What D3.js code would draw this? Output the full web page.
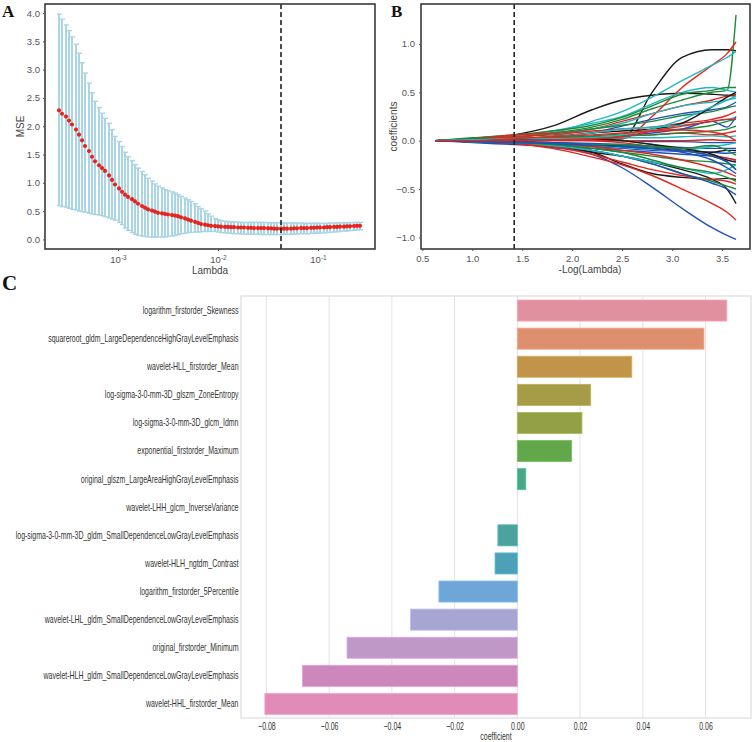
<!DOCTYPE html>
<html>
<head>
<meta charset="utf-8">
<script src="https://cdn.jsdelivr.net/npm/d3@7"></script>
<style>
  body { margin: 0; background: #fff; }
  svg text { font-family: "Liberation Sans", Arial, sans-serif; }
</style>
</head>
<body>
<svg id="fig" width="752" height="742"></svg>
<script>
// ---- panel A: cross-validation curve ----
var logLambda = [
  -3.59,-3.56,-3.52,-3.49,-3.46,-3.42,-3.39,-3.36,-3.33,-3.29,
  -3.26,-3.23,-3.19,-3.16,-3.13,-3.09,-3.06,-3.03,-2.99,-2.96,
  -2.93,-2.90,-2.86,-2.83,-2.80,-2.76,-2.73,-2.70,-2.66,-2.63,
  -2.60,-2.56,-2.53,-2.50,-2.46,-2.43,-2.40,-2.37,-2.33,-2.30,
  -2.27,-2.23,-2.20,-2.17,-2.13,-2.10,-2.07,-2.03,-2.00,-1.97,
  -1.93,-1.90,-1.87,-1.84,-1.80,-1.77,-1.74,-1.70,-1.67,-1.64,
  -1.60,-1.57,-1.54,-1.50,-1.47,-1.44,-1.41,-1.37,-1.34,-1.31,
  -1.27,-1.24,-1.21,-1.17,-1.14,-1.11,-1.07,-1.04,-1.01,-0.98,
  -0.94,-0.91,-0.88,-0.84,-0.81,-0.78,-0.74,-0.71,-0.68,-0.64,
  -0.61,-0.58];
var cvMean = [
  2.28,2.22,2.17,2.10,2.03,1.94,1.85,1.75,1.65,1.56,
  1.46,1.38,1.31,1.26,1.21,1.13,1.05,0.97,0.90,0.84,
  0.79,0.75,0.71,0.67,0.63,0.59,0.56,0.53,0.51,0.49,
  0.47,0.46,0.45,0.44,0.43,0.42,0.41,0.39,0.37,0.35,
  0.33,0.31,0.29,0.27,0.26,0.25,0.24,0.235,0.23,0.225,
  0.22,0.22,0.215,0.215,0.21,0.21,0.21,0.205,0.205,0.20,
  0.20,0.20,0.20,0.195,0.195,0.19,0.19,0.19,0.19,0.19,
  0.19,0.195,0.195,0.20,0.20,0.20,0.205,0.205,0.21,0.21,
  0.21,0.215,0.215,0.22,0.22,0.225,0.225,0.23,0.23,0.235,
  0.24,0.24];
var cvUpper = [
  3.98,3.89,3.79,3.69,3.58,3.45,3.29,3.12,2.94,2.76,
  2.59,2.44,2.33,2.23,2.14,2.05,1.94,1.82,1.73,1.64,
  1.54,1.46,1.39,1.32,1.26,1.20,1.14,1.08,1.03,0.98,
  0.94,0.91,0.88,0.86,0.84,0.82,0.79,0.76,0.73,0.70,
  0.67,0.63,0.58,0.54,0.50,0.45,0.41,0.37,0.345,0.33,
  0.32,0.315,0.31,0.31,0.305,0.30,0.30,0.30,0.30,0.30,
  0.30,0.30,0.30,0.295,0.295,0.295,0.295,0.295,0.29,0.29,
  0.29,0.29,0.29,0.29,0.285,0.285,0.285,0.285,0.285,0.285,
  0.285,0.285,0.29,0.29,0.29,0.29,0.295,0.295,0.295,0.30,
  0.30,0.30];
var cvLower = [
  0.60,0.58,0.57,0.55,0.53,0.52,0.50,0.49,0.48,0.46,
  0.45,0.44,0.43,0.42,0.40,0.38,0.36,0.34,0.30,0.26,
  0.20,0.16,0.12,0.09,0.07,0.06,0.05,0.045,0.04,0.04,
  0.04,0.04,0.045,0.05,0.06,0.07,0.085,0.10,0.11,0.12,
  0.125,0.13,0.13,0.135,0.14,0.14,0.14,0.14,0.13,0.12,
  0.115,0.11,0.105,0.10,0.10,0.095,0.095,0.09,0.09,0.09,
  0.09,0.085,0.085,0.085,0.085,0.085,0.085,0.085,0.09,0.09,
  0.09,0.095,0.095,0.10,0.10,0.10,0.105,0.105,0.11,0.11,
  0.115,0.12,0.125,0.13,0.135,0.14,0.145,0.15,0.155,0.16,
  0.165,0.17];
var lambdaMinLog = -1.37;
var mseTicks = [0, 0.5, 1, 1.5, 2, 2.5, 3, 3.5, 4];
var lambdaTicks = [1e-3, 1e-2, 1e-1];

// ---- panel B: coefficient paths ----
var pathX = [0.63, 1.0, 1.42, 1.8, 2.2, 2.5, 2.8, 3.1, 3.4, 3.55, 3.64];
var pathColors = [
  'black','black','green','red','cyan','cyan','green','red','blue','cyan',
  'green','red','black','cyan','green','blue','red','green','cyan','blue',
  'red','blue','blue','blue','cyan','black','green','red','black','black',
  'blue','red','red','green','blue','cyan','green','red','green','black',
  'blue','cyan','red','green','blue','red'];
var pathValues = [
  [0,-0.01,0.01,0.02,0.03,0.02,0.50,0.86,0.94,0.94,0.93],
  [0,0.01,0.06,0.15,0.32,0.42,0.47,0.49,0.48,0.47,0.46],
  [0,0.02,0.04,0.08,0.14,0.22,0.33,0.42,0.50,0.52,1.30],
  [0,0.00,0.00,0.01,0.02,0.02,0.25,0.55,0.78,0.90,1.02],
  [0,0.01,0.03,0.08,0.20,0.30,0.45,0.62,0.78,0.86,0.92],
  [0,0.02,0.05,0.10,0.18,0.25,0.38,0.50,0.55,0.52,0.50],
  [0,0.03,0.06,0.10,0.16,0.24,0.36,0.48,0.52,0.55,0.55],
  [0,0.02,0.06,0.08,0.12,0.20,0.28,0.36,0.42,0.46,0.48],
  [0,0.00,0.01,0.03,0.08,0.15,0.22,0.28,0.32,0.35,0.40],
  [0,0.01,0.02,0.05,0.12,0.18,0.28,0.36,0.40,0.42,0.44],
  [0,0.02,0.04,0.07,0.12,0.16,0.20,0.26,0.30,0.34,0.36],
  [0,0.01,0.04,0.06,0.10,0.12,0.14,0.18,0.22,0.26,0.30],
  [0,0.00,0.02,0.04,0.08,0.10,0.12,0.18,0.35,0.45,0.50],
  [0,0.00,0.02,0.04,0.08,0.12,0.14,0.16,0.20,0.22,0.24],
  [0,0.01,0.02,0.03,0.05,0.07,0.10,0.12,0.16,0.20,0.22],
  [0,0.00,0.00,0.01,0.03,0.05,0.08,0.12,0.20,0.14,0.25],
  [0,0.00,0.01,0.02,0.04,0.05,0.06,0.08,0.06,0.08,0.10],
  [0,0.01,0.02,0.03,0.04,0.05,0.06,0.08,0.10,0.12,0.15],
  [0,0.00,0.01,0.01,0.02,0.03,0.03,0.04,0.05,0.04,0.05],
  [0,0.00,0.00,0.00,0.00,0.00,-0.01,-0.01,-0.02,-0.02,-0.02],
  [0,0.00,0.00,0.00,0.00,0.00,0.00,0.00,0.01,0.00,0.00],
  [0,-0.01,-0.02,-0.03,-0.04,-0.05,-0.06,-0.07,-0.08,-0.08,-0.08],
  [0,-0.01,-0.03,-0.04,-0.06,-0.08,-0.10,-0.11,-0.12,-0.13,-0.12],
  [0,-0.02,-0.04,-0.06,-0.08,-0.10,-0.12,-0.14,-0.16,-0.18,-0.20],
  [0,-0.01,-0.02,-0.03,-0.05,-0.07,-0.09,-0.10,-0.06,-0.04,-0.02],
  [0,0.00,-0.01,-0.02,-0.04,-0.06,-0.08,-0.10,-0.12,-0.10,-0.10],
  [0,-0.01,-0.02,-0.04,-0.08,-0.12,-0.16,-0.20,-0.22,-0.24,-0.25],
  [0,-0.01,-0.02,-0.04,-0.06,-0.10,-0.14,-0.20,-0.28,-0.33,-0.37],
  [0,0.00,-0.02,-0.05,-0.12,-0.24,-0.34,-0.38,-0.40,-0.39,-0.40],
  [0,-0.01,-0.03,-0.06,-0.12,-0.16,-0.22,-0.30,-0.40,-0.50,-0.65],
  [0,-0.01,-0.03,-0.07,-0.14,-0.28,-0.48,-0.70,-0.90,-0.98,-1.02],
  [0,-0.01,-0.03,-0.08,-0.17,-0.25,-0.36,-0.50,-0.65,-0.74,-0.82],
  [0,-0.01,-0.03,-0.06,-0.14,-0.22,-0.30,-0.36,-0.40,-0.42,-0.45],
  [0,-0.01,-0.02,-0.05,-0.10,-0.16,-0.24,-0.34,-0.42,-0.47,-0.50],
  [0,-0.01,-0.02,-0.04,-0.10,-0.16,-0.24,-0.34,-0.44,-0.50,-0.56],
  [0,-0.01,-0.02,-0.05,-0.10,-0.16,-0.22,-0.28,-0.34,-0.30,-0.25],
  [0,-0.01,-0.02,-0.04,-0.08,-0.12,-0.20,-0.28,-0.33,-0.38,-0.42],
  [0,0.01,0.02,0.02,0.00,-0.02,-0.06,-0.10,-0.15,-0.18,-0.20],
  [0,0.01,0.02,0.03,0.02,0.00,-0.04,-0.10,-0.16,-0.22,-0.30],
  [0,0.00,0.01,0.02,0.02,0.00,-0.04,-0.08,-0.14,-0.20,-0.22],
  [0,0.00,-0.01,-0.02,-0.03,-0.04,-0.06,-0.10,-0.16,-0.22,-0.30],
  [0,0.01,0.02,0.02,0.03,0.06,0.12,0.22,0.35,0.42,0.46],
  [0,0.00,0.00,0.01,0.02,0.04,0.10,0.15,0.20,0.22,0.22],
  [0,-0.01,-0.02,-0.03,-0.04,-0.04,-0.06,-0.08,-0.05,-0.10,-0.15],
  [0,-0.01,-0.02,-0.03,-0.05,-0.06,-0.08,-0.12,-0.20,-0.28,-0.34],
  [0,0.00,0.02,0.04,0.06,0.08,0.10,0.11,0.09,0.05,0.00]];
var lineColor = { black: '#1a1a1a', red: '#e8231c', green: '#1d8a3a', blue: '#1f4fbf', cyan: '#20b8c2' };
var cutLogLambda = 1.42;
var coefTicks = [-1, -0.5, 0, 0.5, 1];
var negLogTicks = [0.5, 1, 1.5, 2, 2.5, 3, 3.5];

// ---- panel C: selected features ----
var featureNames = [
  'logarithm_firstorder_Skewness',
  'squareroot_gldm_LargeDependenceHighGrayLevelEmphasis',
  'wavelet-HLL_firstorder_Mean',
  'log-sigma-3-0-mm-3D_glszm_ZoneEntropy',
  'log-sigma-3-0-mm-3D_glcm_Idmn',
  'exponential_firstorder_Maximum',
  'original_glszm_LargeAreaHighGrayLevelEmphasis',
  'wavelet-LHH_glcm_InverseVariance',
  'log-sigma-3-0-mm-3D_gldm_SmallDependenceLowGrayLevelEmphasis',
  'wavelet-HLH_ngtdm_Contrast',
  'logarithm_firstorder_5Percentile',
  'wavelet-LHL_gldm_SmallDependenceLowGrayLevelEmphasis',
  'original_firstorder_Minimum',
  'wavelet-HLH_gldm_SmallDependenceLowGrayLevelEmphasis',
  'wavelet-HHL_firstorder_Mean'];
var featureCoef = [0.0668, 0.0595, 0.0365, 0.0234, 0.0206, 0.0173, 0.0027, 0.0,
  -0.0062, -0.0071, -0.0250, -0.0341, -0.0543, -0.0685, -0.0805];
var barColors = ['#e0909e', '#de8f6f', '#c0954a', '#a69b46', '#93a046', '#62a84a', '#4aa786', '#4aa797',
  '#4aa39f', '#4ca1b8', '#6fa6d8', '#a6a5d4', '#bf98c7', '#cc88bc', '#e08cb6'];
var coefAxisTicks = [-0.08, -0.06, -0.04, -0.02, 0, 0.02, 0.04, 0.06];

var svg = d3.select('#fig');

function panelLetter(txt, x, y, size) {
  svg.append('text')
    .attr('x', x).attr('y', y)
    .style('font-family', '"Liberation Serif", "Times New Roman", serif')
    .attr('font-weight', 'bold')
    .attr('font-size', size)
    .attr('fill', '#111')
    .text(txt);
}

function styleAxis(g) {
  g.select('.domain').remove();
  g.selectAll('.tick line').attr('stroke', '#555');
  g.selectAll('.tick text').attr('fill', '#555').attr('font-size', '9.5px');
}

// ===== A =====
var boxA = { left: 45, top: 4, right: 375, bottom: 249 };
var xA = d3.scaleLog()
  .domain([Math.pow(10, -3.73), Math.pow(10, -0.43)])
  .range([boxA.left, boxA.right]);
var yA = d3.scaleLinear()
  .domain([-0.17, 4.16])
  .range([boxA.bottom, boxA.top]);

var cv = logLambda.map(function (l, i) {
  return { lambda: Math.pow(10, l), mean: cvMean[i], up: cvUpper[i], lo: cvLower[i] };
});

var gA = svg.append('g');
var errA = gA.append('g').attr('stroke', '#a9d5e4').attr('stroke-width', 2);
errA.selectAll('line.v').data(cv).enter().append('line')
  .attr('x1', d => xA(d.lambda)).attr('x2', d => xA(d.lambda))
  .attr('y1', d => yA(d.lo)).attr('y2', d => yA(d.up));
errA.selectAll('line.u').data(cv).enter().append('line')
  .attr('stroke-width', 1.4)
  .attr('x1', d => xA(d.lambda) - 2).attr('x2', d => xA(d.lambda) + 3)
  .attr('y1', d => yA(d.up)).attr('y2', d => yA(d.up));
errA.selectAll('line.l').data(cv).enter().append('line')
  .attr('stroke-width', 1.4)
  .attr('x1', d => xA(d.lambda) - 2).attr('x2', d => xA(d.lambda) + 3)
  .attr('y1', d => yA(d.lo)).attr('y2', d => yA(d.lo));

gA.selectAll('circle').data(cv).enter().append('circle')
  .attr('cx', d => xA(d.lambda))
  .attr('cy', d => yA(d.mean))
  .attr('r', 2.1)
  .attr('fill', '#e8231c');

gA.append('line')
  .attr('x1', xA(Math.pow(10, lambdaMinLog))).attr('x2', xA(Math.pow(10, lambdaMinLog)))
  .attr('y1', boxA.top).attr('y2', boxA.bottom)
  .attr('stroke', '#222').attr('stroke-width', 1.6).attr('stroke-dasharray', '5,3');

gA.append('rect')
  .attr('x', boxA.left).attr('y', boxA.top)
  .attr('width', boxA.right - boxA.left).attr('height', boxA.bottom - boxA.top)
  .attr('fill', 'none').attr('stroke', '#3a3a3a').attr('stroke-width', 1.6);

var axAy = gA.append('g').attr('transform', 'translate(' + boxA.left + ',0)')
  .call(d3.axisLeft(yA).tickValues(mseTicks).tickFormat(d3.format('.1f')).tickSize(2).tickPadding(3));
styleAxis(axAy);

var axAx = gA.append('g').attr('transform', 'translate(0,' + boxA.bottom + ')')
  .call(d3.axisBottom(xA).tickValues(lambdaTicks).tickSize(2).tickPadding(5));
styleAxis(axAx);
axAx.selectAll('.tick text').text('').each(function (d) {
  var t = d3.select(this);
  t.append('tspan').text('10');
  t.append('tspan').attr('dy', '-0.45em').attr('font-size', '6.5px').text(Math.round(Math.log10(d)));
});

gA.append('text').attr('x', (boxA.left + boxA.right) / 2).attr('y', 274)
  .attr('text-anchor', 'middle').attr('font-size', '10px').attr('fill', '#444').text('Lambda');
gA.append('text').attr('transform', 'translate(24,' + (boxA.top + boxA.bottom) / 2 + ') rotate(-90)')
  .attr('text-anchor', 'middle').attr('font-size', '10px').attr('fill', '#444').text('MSE');

panelLetter('A', 2, 17, '17px');

// ===== B =====
var boxB = { left: 421, top: 4, right: 750, bottom: 249 };
var xB = d3.scaleLinear().domain([0.487, 3.78]).range([boxB.left, boxB.right]);
var yB = d3.scaleLinear().domain([-1.12, 1.413]).range([boxB.bottom, boxB.top]);

var gB = svg.append('g');
gB.append('clipPath').attr('id', 'clipB').append('rect')
  .attr('x', boxB.left).attr('y', boxB.top)
  .attr('width', boxB.right - boxB.left).attr('height', boxB.bottom - boxB.top);

var pathLine = d3.line()
  .x((d, i) => xB(pathX[i]))
  .y(d => yB(d))
  .curve(d3.curveMonotoneX);

gB.append('g').attr('clip-path', 'url(#clipB)')
  .selectAll('path').data(pathValues).enter().append('path')
  .attr('d', pathLine)
  .attr('fill', 'none')
  .attr('stroke', (d, i) => lineColor[pathColors[i]])
  .attr('stroke-width', 1.4);

gB.append('line')
  .attr('x1', xB(cutLogLambda)).attr('x2', xB(cutLogLambda))
  .attr('y1', boxB.top).attr('y2', boxB.bottom)
  .attr('stroke', '#222').attr('stroke-width', 1.6).attr('stroke-dasharray', '5,3');

gB.append('rect')
  .attr('x', boxB.left).attr('y', boxB.top)
  .attr('width', boxB.right - boxB.left).attr('height', boxB.bottom - boxB.top)
  .attr('fill', 'none').attr('stroke', '#3a3a3a').attr('stroke-width', 1.6);

var axBy = gB.append('g').attr('transform', 'translate(' + boxB.left + ',0)')
  .call(d3.axisLeft(yB).tickValues(coefTicks).tickFormat(d3.format('.1f')).tickSize(2).tickPadding(4));
styleAxis(axBy);
var axBx = gB.append('g').attr('transform', 'translate(0,' + boxB.bottom + ')')
  .call(d3.axisBottom(xB).tickValues(negLogTicks).tickFormat(d3.format('.1f')).tickSize(2).tickPadding(4));
styleAxis(axBx);

gB.append('text').attr('x', 590).attr('y', 273)
  .attr('text-anchor', 'middle').attr('font-size', '10px').attr('fill', '#444').text('-Log(Lambda)');
gB.append('text').attr('transform', 'translate(397,' + (boxB.top + boxB.bottom) / 2 + ') rotate(-90)')
  .attr('text-anchor', 'middle').attr('font-size', '10px').attr('fill', '#444').text('coefficients');

panelLetter('B', 391, 17, '17px');

// ===== C =====
var boxC = { left: 241, top: 296, right: 751, bottom: 718 };
var xC = d3.scaleLinear().domain([-0.0881, 0.0745]).range([boxC.left, boxC.right]);
var yC = d3.scaleBand().domain(featureNames)
  .range([boxC.top + 0.5, boxC.bottom])
  .paddingInner(0.25).paddingOuter(0.125);

var gC = svg.append('g');
gC.selectAll('line.grid').data(coefAxisTicks).enter().append('line')
  .attr('x1', d => xC(d)).attr('x2', d => xC(d))
  .attr('y1', boxC.top).attr('y2', boxC.bottom)
  .attr('stroke', '#e3e3e3').attr('stroke-width', 1);

gC.selectAll('rect.bar').data(featureNames).enter().append('rect')
  .attr('x', (d, i) => xC(Math.min(0, featureCoef[i])))
  .attr('width', (d, i) => Math.abs(xC(featureCoef[i]) - xC(0)))
  .attr('y', d => yC(d))
  .attr('height', yC.bandwidth())
  .attr('fill', (d, i) => barColors[i])
  .attr('stroke', (d, i) => d3.color(barColors[i]).brighter(0.4))
  .attr('stroke-width', 0.8);

gC.append('rect')
  .attr('x', boxC.left).attr('y', boxC.top)
  .attr('width', boxC.right - boxC.left).attr('height', boxC.bottom - boxC.top)
  .attr('fill', 'none').attr('stroke', '#d6d6d6').attr('stroke-width', 1);

var axCy = gC.append('g').attr('transform', 'translate(' + boxC.left + ',0)')
  .call(d3.axisLeft(yC).tickSize(0).tickPadding(2.5));
axCy.select('.domain').remove();
var yLabels = axCy.selectAll('.tick text').attr('fill', '#333').attr('font-size', '10.5px');

// labels in the source use a condensed face; squeeze them so the longest one spans ~224px
var longest = d3.max(yLabels.nodes(), n => n.getComputedTextLength());
var squeeze = Math.min(1, 223 / longest);
yLabels.attr('transform', 'scale(' + squeeze + ',1)')
  .attr('x', -2.5 / squeeze);

var axCx = gC.append('g').attr('transform', 'translate(0,' + boxC.bottom + ')')
  .call(d3.axisBottom(xC).tickValues(coefAxisTicks).tickFormat(d3.format('.2f')).tickSize(0).tickPadding(5));
axCx.select('.domain').remove();
axCx.selectAll('.tick text').attr('fill', '#333').attr('font-size', '10.5px')
  .attr('transform', 'scale(' + squeeze + ',1)');

gC.append('text')
  .attr('transform', 'translate(' + (boxC.left + boxC.right) / 2 + ',740) scale(' + squeeze + ',1)')
  .attr('text-anchor', 'middle').attr('font-size', '10.5px').attr('fill', '#333').text('coefficient');

panelLetter('C', 2, 290, '21px');
</script>
</body>
</html>
